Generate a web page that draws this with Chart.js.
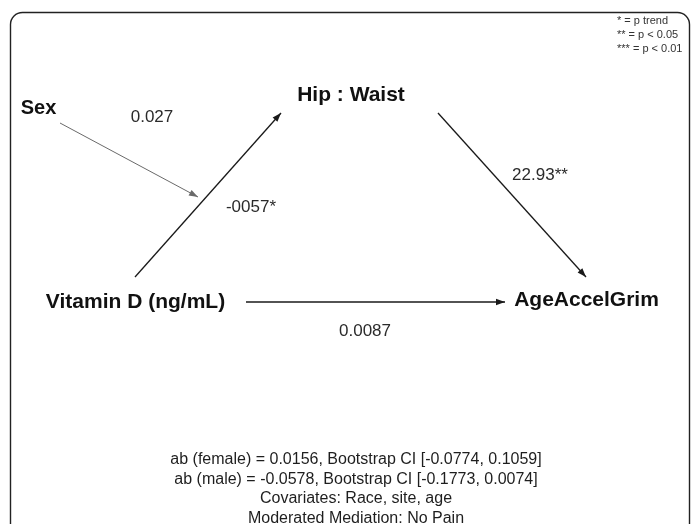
<!DOCTYPE html>
<html>
<head>
<meta charset="utf-8">
<script src="https://cdn.jsdelivr.net/npm/chart.js@4/dist/chart.umd.min.js"></script>
<style>
  html, body { margin: 0; padding: 0; background: #fff; }
  #wrap { width: 697px; height: 524px; position: relative; }
</style>
</head>
<body>
<div id="wrap"><canvas id="pathDiagram"></canvas></div>
<script>
// node names and path coefficients
const nodeNames = ['Sex', 'Vitamin D (ng/mL)', 'Hip : Waist', 'AgeAccelGrim'];
const pathLabels = ['0.027', '-0057*', '22.93**', '0.0087'];
const sigLegend = ['* = p trend', '** = p < 0.05', '*** = p < 0.01'];
const notes = [
  'ab (female) = 0.0156, Bootstrap CI [-0.0774, 0.1059]',
  'ab (male) = -0.0578, Bootstrap CI [-0.1773, 0.0074]',
  'Covariates: Race, site, age',
  'Moderated Mediation: No Pain'
];

// layout (diagram units, same range as the scales)
const nodeX = [38.5, 135.5, 351, 586.5];
const nodeY = [108, 302, 95, 300];
const pathStartX = [60, 135, 438, 246];
const pathStartY = [123, 277, 113, 302];
const pathEndX = [198, 281, 586, 505];
const pathEndY = [197, 113, 277, 302];
const pathLabelX = [152, 251, 540, 365];
const pathLabelY = [117, 207, 175, 331];
const pathColors = ['#6a6a6a', '#1a1a1a', '#1a1a1a', '#1a1a1a'];
const pathWidths = [1, 1.3, 1.3, 1.3];

const FONT = '"Liberation Sans", Arial, Helvetica, sans-serif';

const datasets = pathLabels.map((lbl, i) => ({
  label: lbl,
  data: [
    { x: pathStartX[i], y: pathStartY[i] },
    { x: pathEndX[i], y: pathEndY[i] }
  ],
  showLine: true,
  borderColor: pathColors[i],
  borderWidth: pathWidths[i],
  pointRadius: 0,
  fill: false
}));

// frame, arrowheads and all the text
const diagramPlugin = {
  id: 'diagram',
  beforeDatasetsDraw(chart) {
    const ctx = chart.ctx;
    const xs = chart.scales.x, ys = chart.scales.y;
    ctx.save();
    ctx.fillStyle = '#fff';
    ctx.fillRect(0, 0, chart.width, chart.height);
    // rounded frame
    const l = xs.getPixelForValue(10.5), r = xs.getPixelForValue(689.5);
    const t = ys.getPixelForValue(12.5), b = ys.getPixelForValue(545);
    ctx.beginPath();
    ctx.roundRect(l, t, r - l, b - t, 12);
    ctx.strokeStyle = '#222';
    ctx.lineWidth = 1.4;
    ctx.stroke();
    ctx.restore();
  },
  afterDatasetsDraw(chart) {
    const ctx = chart.ctx;
    const xs = chart.scales.x, ys = chart.scales.y;
    ctx.save();
    // arrowheads
    chart.data.datasets.forEach((ds, i) => {
      const pts = chart.getDatasetMeta(i).data;
      const a = pts[0], z = pts[1];
      const ang = Math.atan2(z.y - a.y, z.x - a.x);
      const len = 9, half = 3.2;
      ctx.beginPath();
      ctx.moveTo(z.x, z.y);
      ctx.lineTo(z.x - len * Math.cos(ang) + half * Math.sin(ang), z.y - len * Math.sin(ang) - half * Math.cos(ang));
      ctx.lineTo(z.x - len * Math.cos(ang) - half * Math.sin(ang), z.y - len * Math.sin(ang) + half * Math.cos(ang));
      ctx.closePath();
      ctx.fillStyle = ds.borderColor;
      ctx.fill();
    });

    ctx.textAlign = 'center';
    ctx.textBaseline = 'middle';
    // node names
    ctx.fillStyle = '#111';
    nodeNames.forEach((n, i) => {
      ctx.font = 'bold ' + (i === 0 ? 20 : 21) + 'px ' + FONT;
      ctx.fillText(n, xs.getPixelForValue(nodeX[i]), ys.getPixelForValue(nodeY[i]));
    });
    // coefficients
    ctx.fillStyle = '#2b2b2b';
    ctx.font = '17px ' + FONT;
    pathLabels.forEach((p, i) => {
      ctx.fillText(p, xs.getPixelForValue(pathLabelX[i]), ys.getPixelForValue(pathLabelY[i]));
    });
    // significance key
    ctx.textAlign = 'left';
    ctx.font = '11px ' + FONT;
    ctx.fillStyle = '#333';
    sigLegend.forEach((s, i) => {
      ctx.fillText(s, xs.getPixelForValue(617), ys.getPixelForValue(20.5 + i * 14));
    });
    // footnotes
    ctx.textAlign = 'center';
    ctx.font = '16px ' + FONT;
    ctx.fillStyle = '#1e1e1e';
    notes.forEach((s, i) => {
      ctx.fillText(s, xs.getPixelForValue(356), ys.getPixelForValue(460 + i * 19.5));
    });
    ctx.restore();
  }
};

new Chart(document.getElementById('pathDiagram'), {
  type: 'scatter',
  data: { datasets: datasets },
  options: {
    responsive: true,
    maintainAspectRatio: false,
    animation: false,
    layout: { padding: 0 },
    plugins: { legend: { display: false }, tooltip: { enabled: false } },
    scales: {
      x: { type: 'linear', min: 0, max: 697, display: false },
      y: { type: 'linear', min: 0, max: 524, reverse: true, display: false }
    }
  },
  plugins: [diagramPlugin]
});
</script>
</body>
</html>
